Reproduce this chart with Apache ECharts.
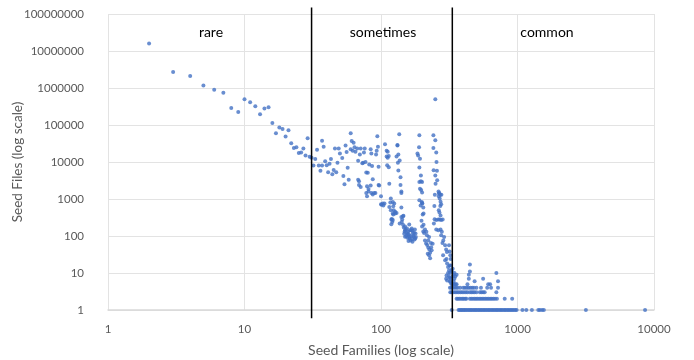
<!DOCTYPE html>
<html>
<head>
<meta charset="utf-8">
<script src="https://cdn.jsdelivr.net/npm/echarts@6/dist/echarts.min.js"></script>
<style>html,body{margin:0;padding:0;background:#fff;}#c{width:694px;height:360px;}</style>
</head>
<body>
<div id="c"></div>
<script>
// ---- data (Seed Families, Seed Files) ----
const rarePoints = [
  [2,16000000],[3,2700000],[4,2100000],[5,1160000],[6,890000],[7,740000],[8,290000],[9,225000],
  [10,500000],[11,410000],[12,320000],[13,195000],[14,280000],[15,300000],[16,113000],[17,60000],
  [18,85000],[19,78000],[20,49000],[21,72000],[22,32000],[23,24000],[24,25000],[25,17400],
  [26,18000],[27,23000],[28,15000],[29,44000],[30,13800]
];
const sometimesPoints = [
  [31,13000],[32,8100],[33,12000],[34,21500],[35,8000],[36,5800],[37,37600],[38,26000],[37,8000],
  [39,10400],[40,8200],[41,5300],[42,9000],[43,12000],[44,4700],[45,6100],[46,23000],[47,5300],
  [48,9500],[49,23000],[50,17000],[52,12800],[53,4200],[54,2500],[55,28000],[56,18500],[57,7000],
  [58,3300],[60,22000],[60,60000],[61,37000],[62,20000],[63,33000],[64,25000],[65,19000],[67,23000],
  [68,10800],[69,3000],[70,16000],[71,23000],[73,9200],[74,9500],[75,18000],[76,23000],[77,10000],
  [78,5200],[79,2200],[80,5100],[81,1600],[82,8500],[84,22000],[85,17000],[85,1450],[86,7800],
  [87,3400],[91,1460],[92,16000],[93,20000],[94,50000],[95,26000],[96,7400],[97,2300],
  [68,3300],[69,2400],[71,2100],[81,1850],[84,2300],[78,1460],[79,1190],[87,1320],[89,1460],[96,2400],
  [100,1190],[104,667],[106,755],[100,720],[101,700],[103,760],[118,1030],[123,640],[125,760],[124,500],
  [127,405],[123,380],[119,278],[121,240],[107,30000],[110,20000],[112,19000],[114,14500],[115,2600],
  [111,8200],[114,7200],[110,14000],[112,13000],[117,800],[122,830],[115,611],[118,500],[122,405],
  [127,450],[130,420],[120,290],[122,270],[119,208],
  [132,29000],[132,28000],[134,16000],[130,14000],[137,11000],[133,9500],[134,5900],[139,3900],
  [139,2400],[141,1600],[136,56000],[141,1450],[141,590],[145,340],[143,278],[141,325],[146,350],
  [142,240],[137,217],[147,169],[150,143],[155,120],[149,130],[157,111],[161,94],[159,73],[163,143],
  [168,159],[171,120],[172,100],[168,83],[176,81],[161,204],[166,143],[179,116],[180,94],[177,149],
  [145,200],[150,180],[152,150],[153,100],[156,90],[158,130],[160,110],[162,85],[165,100],[170,140],
  [174,95],[175,120],[178,85],[150,95],[148,115],[155,160],[165,75],[170,70],
  [191,53000],[190,25000],[185,17000],[187,15000],[193,12300],[191,7100],[196,4300],[191,2900],
  [196,3000],[200,2900],[193,1900],[197,1750],[200,1500],[191,930],[199,830],[195,670],[201,760],
  [205,405],[204,590],[200,784],[202,380],[204,132],[207,120],[210,76],[214,63],[218,57],[222,49],
  [226,43],[229,35],[233,50],[222,76],[225,94],[217,105],[232,65],[235,41],[239,62],[229,25],
  [220,33],[225,30],[198,260],[205,200],[210,150],[200,180],[215,130],
  [250,500000],[242,53000],[250,39000],[242,24000],[254,18000],[255,10000],[243,6000],[257,5800],
  [250,4300],[258,3200],[251,2600],[248,1300],[264,1600],[266,1400],[272,1300],[277,1300],[265,1190],
  [267,1450],[269,1030],[273,840],[272,650],[276,720],[265,500],[268,430],[273,360],[246,650],
  [247,284],[254,270],[263,278],[269,278],[276,270],[283,278],[244,217],[254,149],[263,143],
  [273,149],[279,130],[276,105],[290,94],[286,76],[282,65],[315,56],[318,38],[322,30],[324,24],
  [295,56],[300,43],[304,37],[285,30],[295,22],[302,24],[305,18],[310,14.5],[318,16],[315,11.8],
  [310,10],[302,8.6],[300,7],[305,6.3],[318,7.4],[322,5.7],[328,5.1]
];
const commonPoints = [
  [330,1],[370,1],[377,1],[386,1],[391,1],[401,1],[407,1],[417,1],[424,1],[435,1],[442,1],[453,1],
  [461,1],[473,1],[481,1],[493,1],[502,1],[515,1],[524,1],[538,1],[548,1],[562,1],[572,1],[587,1],
  [598,1],[613,1],[625,1],[641,1],[654,1],[671,1],[684,1],[701,1],[715,1],[733,1],[748,1],[767,1],
  [783,1],[803,1],[819,1],[840,1],[857,1],[879,1],[897,1],[919,1],[941,1],[964,1],[985,1],
  [1087,1],[1160,1],[1275,1],[1420,1],[1460,1],[1515,1],[1560,1],[3170,1],[8600,1],
  [358,2],[366,2],[375,2],[385,2],[395,2],[404,2],[414,2],[422,2],[448,2],[460,2],[472,2],[485,2],
  [497,2],[510,2],[524,2],[538,2],[552,2],[567,2],[582,2],[598,2],[614,2],[631,2],[648,2],[666,2],
  [685,2],[707,2],[806,2],[914,2],
  [322,3],[330,3],[340,3],[350,3],[360,3],[370,3],[382,3],[393,3],[405,3],[418,3],[430,3],[448,3],
  [460,3],[472,3],[484,3],[500,3],[530,3],[545,3],[560,3],[575,3],[700,3],
  [320,4],[328,4],[336,4],[345,4],[355,4],[365,4],[380,4],[400,4],[412,4],[425,4],[438,4],[452,4],
  [466,4],[480,4],[500,4],[540,4],[600,4],[640,4],[720,4],
  [330,5],[338,5],[345,5],[352,5],[358,5],[430,5],[610,5],[630,5],
  [320,6],[340,6],[485,6],[720,6],[325,7],[345,7],[440,7],[560,7],[315,8],[335,8],[350,8],
  [340,9],[358,9],[440,9],[320,10],[345,10],[700,10],[448,11],[330,11],[328,12],[335,13],
  [325,16],[448,17]
];
const zoneBoundaries = [31, 333];
const zoneNames = ['rare', 'sometimes', 'common'];
const xTicks = [1, 10, 100, 1000, 10000];
const yTicks = [1, 10, 100, 1000, 10000, 100000, 1000000, 10000000, 100000000];

const FONT = 'Lato';
const chart = echarts.init(document.getElementById('c'), null, {renderer: 'canvas'});
const allPoints = rarePoints.concat(sometimesPoints, commonPoints);
const boundarySeries = zoneBoundaries.map(b => ({
  type: 'line', data: [[b, 0.6], [b, 150000000]], clip: false, symbol: 'none', silent: true,
  lineStyle: {color: '#000', width: 1.5}, z: 3, animation: false
}));
const zoneCentersPx = [211, 383, 547];
chart.setOption({
  animation: false,
  grid: {left: 108, right: 40, top: 14, bottom: 50, containLabel: false, outerBoundsMode: 'none'},
  xAxis: {
    type: 'log', logBase: 10, min: xTicks[0], max: xTicks[xTicks.length - 1],
    name: 'Seed Families (log scale)', nameLocation: 'middle', nameGap: 33, nameMoveOverlap: false,
    nameTextStyle: {color: '#595959', fontSize: 14, fontFamily: FONT},
    axisLine: {show: true, lineStyle: {color: '#d9d9d9', width: 1.5}},
    axisTick: {show: false},
    axisLabel: {color: '#595959', fontSize: 11.5, fontFamily: FONT, margin: 13,
      formatter: v => String(Math.round(v))},
    splitLine: {show: true, lineStyle: {color: '#e3e3e3', width: 1}}
  },
  yAxis: {
    type: 'log', logBase: 10, min: yTicks[0], max: yTicks[yTicks.length - 1],
    name: 'Seed Files (log scale)', nameLocation: 'middle', nameGap: 83, nameMoveOverlap: false,
    nameTextStyle: {color: '#595959', fontSize: 13.5, fontFamily: FONT},
    axisLine: {show: false},
    axisTick: {show: false},
    axisLabel: {color: '#595959', fontSize: 11.5, fontFamily: FONT, margin: 24,
      formatter: v => String(Math.round(v))},
    splitLine: {show: true, lineStyle: {color: '#e3e3e3', width: 1}}
  },
  graphic: zoneNames.map((n, i) => ({
    type: 'text', x: zoneCentersPx[i], y: 32, z: 10,
    style: {text: n, fill: '#000', font: '14px ' + FONT, textAlign: 'center', textVerticalAlign: 'middle'}
  })),
  series: [{
    type: 'scatter', data: allPoints, symbol: 'circle', symbolSize: 4,
    itemStyle: {color: '#4472C4'}, z: 2, animation: false
  }].concat(boundarySeries)
});
</script>
</body>
</html>
